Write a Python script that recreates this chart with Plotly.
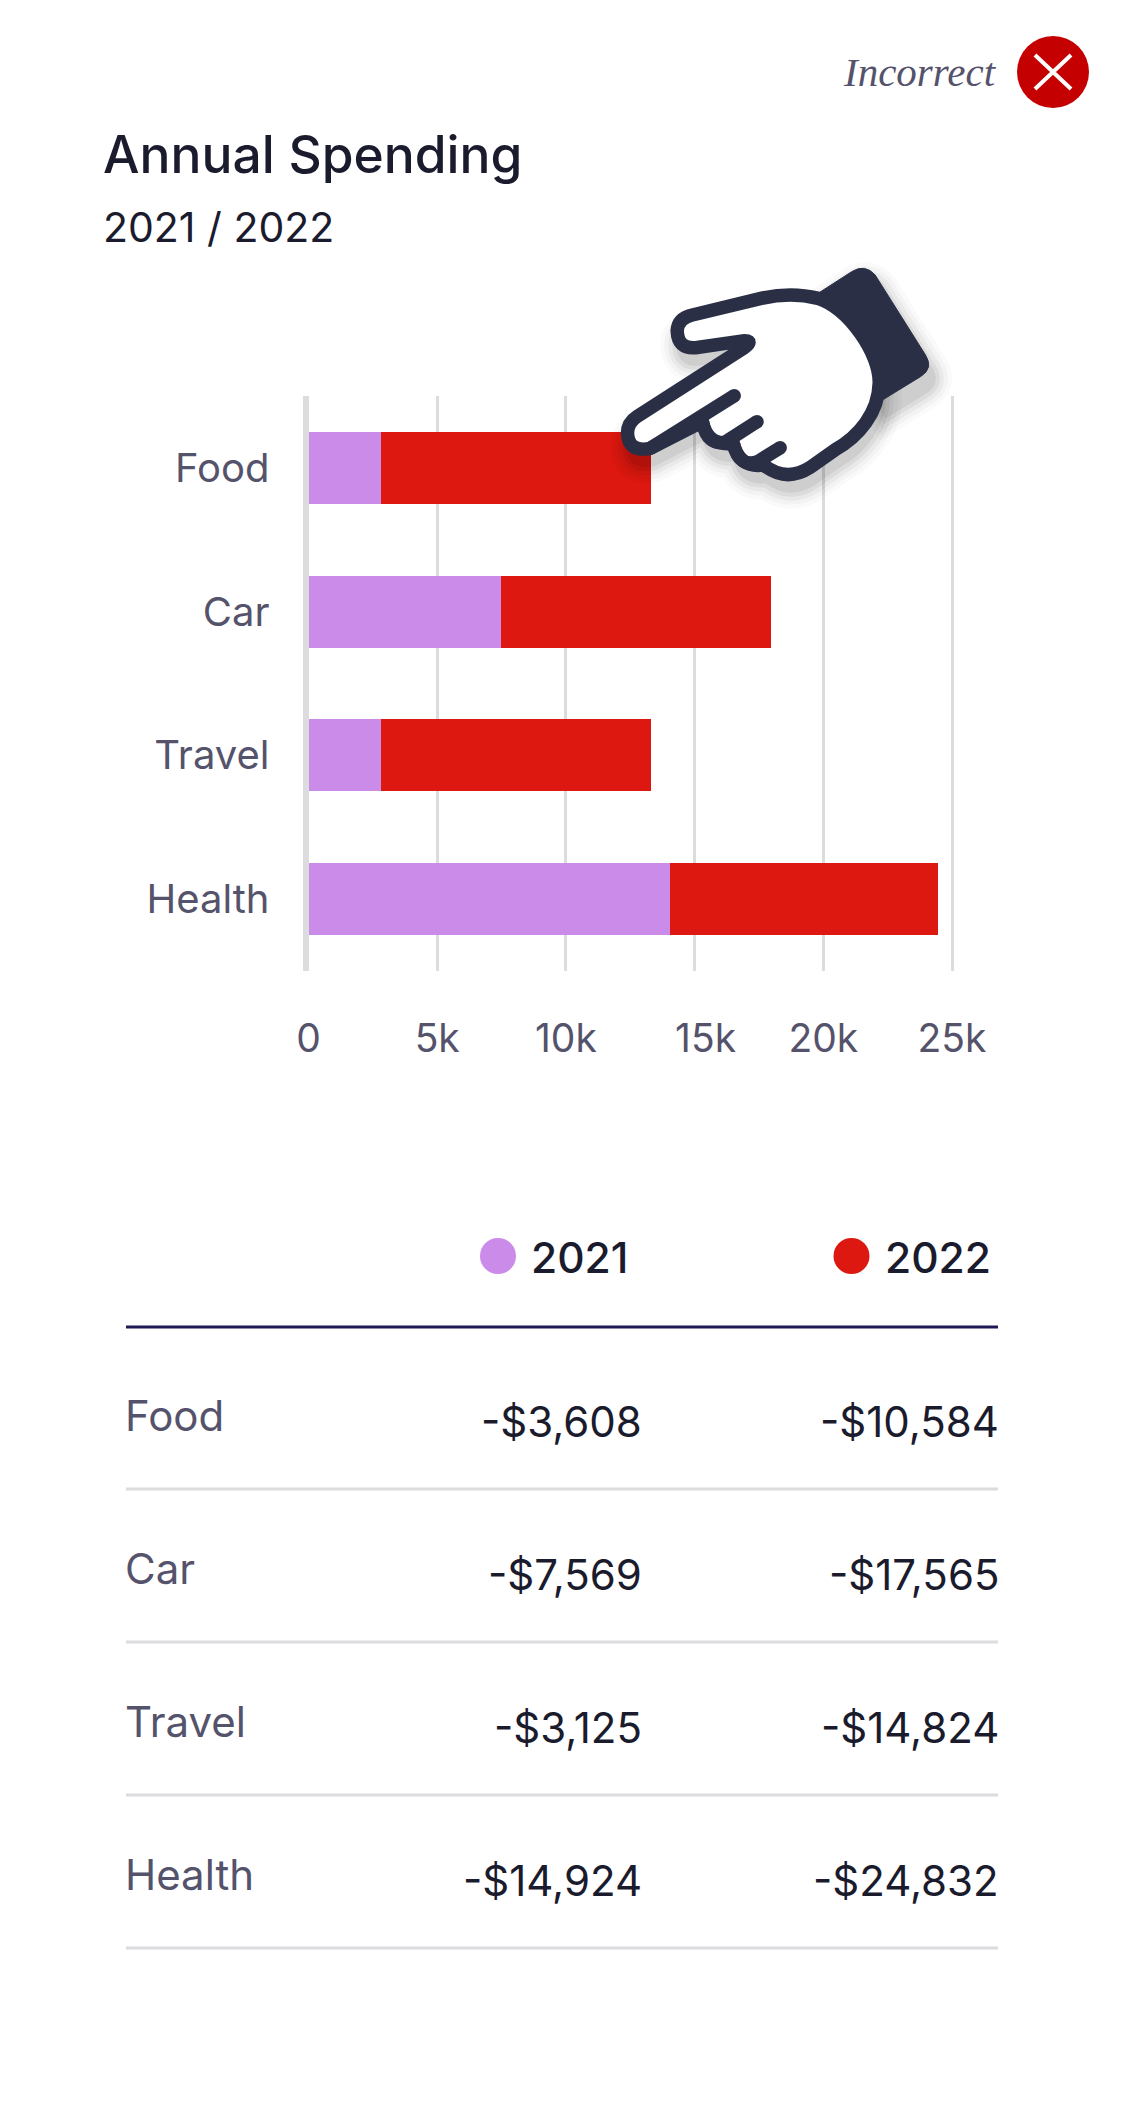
import re
import plotly.graph_objects as go

W = 1125
H = 2121

categories = ["Food", "Car", "Travel", "Health"]
bar_2021 = [2810, 7480, 2810, 14040]
bar_2022 = [10510, 10470, 10510, 10430]
x_ticks = [0, 5000, 10000, 15000, 20000, 25000]
x_labels = ["0", "5k", "10k", "15k", "20k", "25k"]

table_2021 = ["-$3,608", "-$7,569", "-$3,125", "-$14,924"]
table_2022 = ["-$10,584", "-$17,565", "-$14,824", "-$24,832"]

PURPLE = "#cb8ce9"
RED = "#dc1810"
GREY_TEXT = "#55536b"
DARK_TEXT = "#1b1b2e"
RULE = "#dcdcdf"
HAND = "#2a2f45"
SANS = "Inter"


def px(x):
    return x / W


def py(y):
    return 1 - y / H


# hand outline, measured on the picture as (x, y) pairs
SILHOUETTE = ("M 82,1300 Q 82,1268 110,1250 L 430,1043 Q 458,1022 430,1022 L 285,1043 "
              "Q 232,1048 230,992 Q 232,955 275,945 L 480,895 Q 570,875 650,895 "
              "C 740,925 835,1060 832,1150 C 830,1240 770,1310 700,1350 L 625,1403 "
              "Q 555,1448 487,1395 Q 415,1405 397,1330 Q 320,1340 305,1265 L 150,1345 "
              "Q 85,1358 82,1300 Z")
CUFF = "M 650,880 L 750,815 Q 790,790 820,825 L 970,1065 Q 995,1105 955,1130 L 845,1198 Z"
CREASES = ["M 150,1345 L 400,1187",
           "M 305,1265 Q 320,1340 375,1325 L 468,1265",
           "M 397,1330 Q 415,1405 470,1385 L 537,1343"]
CREASE_ENDS = [(400, 1187), (468, 1265), (537, 1343)]
HAND_SCALE = 2.98


def hand_path(d, dx=0, dy=0):
    def conv(m):
        x = 600 + float(m.group(1)) / HAND_SCALE + dx
        y = float(m.group(2)) / 3 + dy
        return f"{px(x):.5f},{py(y):.5f}"
    return re.sub(r"([\d.]+),([\d.]+)", conv, d)


fig = go.Figure()
fig.add_trace(go.Bar(y=categories, x=bar_2021, name="2021", orientation="h",
                     marker=dict(color=PURPLE, line_width=0)))
fig.add_trace(go.Bar(y=categories, x=bar_2022, name="2022", orientation="h",
                     marker=dict(color=RED, line_width=0)))

shapes = []
annotations = []


def text(x, y, s, size, color=DARK_TEXT, anchor="left", family=SANS, weight=400, italic=False):
    # annotations keep a little padding round the text
    x = x - 3 if anchor == "left" else x + 3
    annotations.append(dict(x=px(x), y=py(y), xref="paper", yref="paper", text=s, showarrow=False,
                            xanchor=anchor, yanchor="middle", align=anchor,
                            font=dict(size=size, color=color, family=family, weight=weight,
                                      style="italic" if italic else "normal")))


def hline(y, color, width):
    shapes.append(dict(type="line", xref="paper", yref="paper", x0=px(126), x1=px(998),
                       y0=py(y), y1=py(y), line=dict(color=color, width=width)))


def circle(cx, cy, r, color):
    shapes.append(dict(type="circle", xref="paper", yref="paper", x0=px(cx - r), x1=px(cx + r),
                       y0=py(cy - r), y1=py(cy + r), fillcolor=color, line_width=0))


# header
text(104, 154, "Annual Spending", 51.5, weight=500)
text(104, 227, "2021 / 2022", 41)
text(996, 72, "Incorrect", 41, color=GREY_TEXT, anchor="right", family="Liberation Serif", italic=True)
circle(1053, 72, 36, "#c40000")
for x0, x1 in [(1035, 1071), (1071, 1035)]:
    shapes.append(dict(type="line", xref="paper", yref="paper", x0=px(x0), x1=px(x1),
                       y0=py(55), y1=py(89), line=dict(color="white", width=4)))

# table
circle(498, 1256, 18, PURPLE)
circle(851.5, 1256, 18, RED)
text(532, 1257, "2021", 42.5, weight=500)
text(886, 1257, "2022", 42.5, weight=500)
hline(1327, "#1f1a55", 3)
for i, cat in enumerate(categories):
    text(126, 1415.5 + 153 * i, cat, 42, color=GREY_TEXT)
    text(998, 1421.5 + 153 * i, table_2022[i], 42, anchor="right")
    text(641, 1421.5 + 153 * i, table_2021[i], 42, anchor="right")
    hline(1489 + 153 * i, RULE, 3)

# soft shadow under the hand
for w, op in [(40, 0.015), (32, 0.025), (24, 0.035), (16, 0.05), (8, 0.06)]:
    for d in (SILHOUETTE, CUFF):
        shapes.append(dict(type="path", xref="paper", yref="paper", path=hand_path(d, 3, 14),
                           fillcolor="#000000", opacity=op, line=dict(color="#000000", width=w)))

# the hand itself
shapes.append(dict(type="path", xref="paper", yref="paper", path=hand_path(CUFF),
                   fillcolor=HAND, line=dict(color=HAND, width=1)))
shapes.append(dict(type="path", xref="paper", yref="paper", path=hand_path(SILHOUETTE),
                   fillcolor="white", line=dict(color=HAND, width=13.5)))
for d in CREASES:
    shapes.append(dict(type="path", xref="paper", yref="paper", path=hand_path(d),
                       line=dict(color=HAND, width=13.5)))
for ex, ey in CREASE_ENDS:
    circle(600 + ex / HAND_SCALE, ey / 3, 6.75, HAND)

# the 15k label sits a little right of its gridline in the original
tick_text = ["\u00a0\u00a0" + t if t == "15k" else t for t in x_labels]

fig.update_layout(
    width=W, height=H, margin=dict(l=0, r=0, t=0, b=0),
    paper_bgcolor="white", plot_bgcolor="white",
    barmode="stack", bargap=0.5, showlegend=False,
    font=dict(family=SANS, color=GREY_TEXT, size=38),
    shapes=shapes, annotations=annotations,
    xaxis=dict(domain=[px(308.5), px(954)], range=[0, 25077], tickvals=x_ticks, ticktext=tick_text,
               showgrid=True, gridcolor=RULE, gridwidth=3, zeroline=False, showline=False,
               anchor="y", ticks="", ticklabelstandoff=41, automargin=False,
               tickfont=dict(size=39, color=GREY_TEXT, family=SANS)),
    yaxis=dict(domain=[py(971), py(396)], autorange="reversed", showgrid=False, zeroline=False,
               showline=True, linecolor=RULE, linewidth=6, ticks="", ticklabelstandoff=25,
               automargin=False, tickfont=dict(size=40, color=GREY_TEXT, family=SANS)),
)

fig.write_html("out.html", config=dict(displayModeBar=False),
               post_script="document.body.style.margin='0';")
